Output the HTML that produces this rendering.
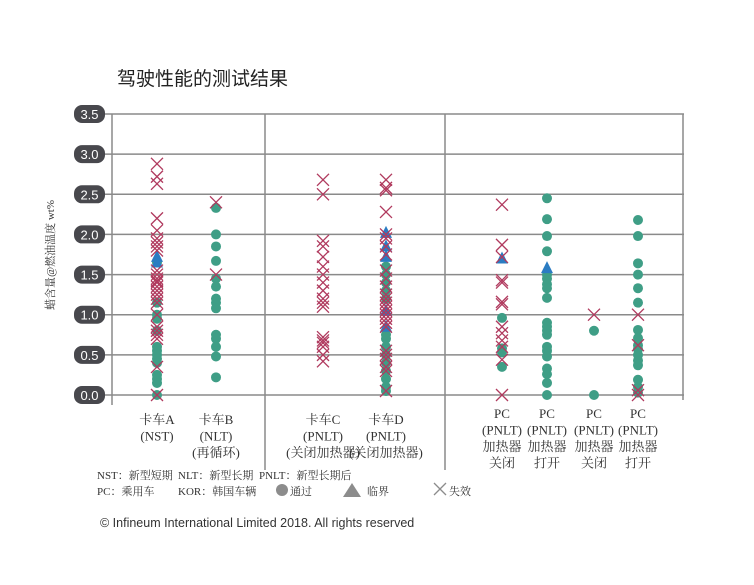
<!DOCTYPE html>
<html><head><meta charset="utf-8">
<style>
html,body{margin:0;padding:0;background:#fff;}
svg{display:block;}
text{font-family:"Liberation Serif","Noto Serif CJK SC",serif;}
</style></head>
<body>
<svg id="chart" width="754" height="585" viewBox="0 0 754 585" xmlns="http://www.w3.org/2000/svg">
<text x="117" y="85" font-size="19" fill="#222" style="font-family:'Liberation Sans','Noto Sans CJK SC',sans-serif">驾驶性能的测试结果</text>
<g id="grid"></g>
<g id="marks"></g>
<g id="yticks"></g>
<text transform="translate(54,255) rotate(-90)" text-anchor="middle" font-size="11" fill="#333">蜡含量@燃油温度 wt%</text>
<g id="xlabels"></g>
<g font-size="11" fill="#333">
<text x="97" y="479">NST：新型短期</text>
<text x="178" y="479">NLT：新型长期</text>
<text x="259" y="479">PNLT：新型长期后</text>
<text x="97" y="495">PC：乘用车</text>
<text x="178" y="495">KOR：韩国车辆</text>
<circle cx="282" cy="490" r="6" fill="#8c8c8c"/>
<text x="290" y="495">通过</text>
<polygon points="343,497 361,497 352,483" fill="#8c8c8c"/>
<text x="367" y="495">临界</text>
<path d="M434,483 L446,495 M446,483 L434,495" stroke="#8c8c8c" stroke-width="1.3"/>
<text x="449" y="495">失效</text>
</g>
<text x="100" y="527" font-size="12.5" fill="#333" style="font-family:'Liberation Sans',sans-serif">© Infineum International Limited 2018. All rights reserved</text>
</svg>
<script>
const categories=["卡车A","卡车B","卡车C","卡车D","PC1","PC2","PC3","PC4"];
const yTicks=[0,0.5,1.0,1.5,2.0,2.5,3.0,3.5];
const failVals=[
[2.88,2.72,2.63,2.2,2.05,1.95,1.9,1.85,1.8,1.55,1.5,1.45,1.42,1.4,1.35,1.3,1.25,1.2,1.15,1.0,0.85,0.8,0.75,0.7,0.35,0.0],
[2.4,1.5],
[2.68,2.5,1.92,1.85,1.72,1.6,1.5,1.4,1.3,1.2,1.15,1.1,0.72,0.68,0.65,0.6,0.5,0.42],
[2.68,2.58,2.55,2.28,2.0,1.95,1.85,1.75,1.55,1.45,1.35,1.25,1.2,1.15,1.1,1.05,1.0,0.95,0.9,0.85,0.55,0.5,0.45,0.35,0.3,0.05],
[2.37,1.87,1.72,1.43,1.4,1.16,1.13,0.85,0.77,0.68,0.6,0.44,0.0],
[],
[1.0],
[1.0,0.62,0.06,0.0]];
const passVals=[
[1.65,1.15,1.0,0.95,0.8,0.6,0.55,0.5,0.45,0.4,0.25,0.2,0.15,0.0],
[2.33,2.0,1.85,1.67,1.45,1.35,1.2,1.15,1.08,0.75,0.7,0.6,0.48,0.22],
[],
[1.6,1.5,1.4,1.3,1.2,0.75,0.7,0.6,0.5,0.4,0.3,0.2,0.1,0.05],
[0.96,0.58,0.53,0.35],
[2.45,2.19,1.98,1.79,1.5,1.45,1.38,1.33,1.21,0.9,0.85,0.8,0.75,0.6,0.55,0.48,0.33,0.26,0.15,0.0],
[0.8,0.0],
[2.18,1.98,1.64,1.5,1.33,1.15,0.81,0.71,0.62,0.57,0.5,0.43,0.37,0.19,0.1,0.03]];
const borderVals=[
[1.72,1.65],[],[],[2.02,1.85,1.72,1.05,0.85],[1.7],[1.58],[],[]];
const catLabels=[
["卡车A","(NST)"],["卡车B","(NLT)","(再循环)"],["卡车C","(PNLT)","(关闭加热器)"],["卡车D","(PNLT)","(关闭加热器)"],
["PC","(PNLT)","加热器","关闭"],["PC","(PNLT)","加热器","打开"],["PC","(PNLT)","加热器","关闭"],["PC","(PNLT)","加热器","打开"]];

const NS="http://www.w3.org/2000/svg";
const colX=[157,216,323,386,502,547,594,638];
function xPos(i){return colX[i];}
function yPos(v){return 395-(v/3.5)*281;}
function mk(tag,attrs,parent){const e=document.createElementNS(NS,tag);for(const k in attrs)e.setAttribute(k,attrs[k]);parent.appendChild(e);return e;}
const grid=document.getElementById('grid'),marks=document.getElementById('marks'),yt=document.getElementById('yticks'),xl=document.getElementById('xlabels');
yTicks.forEach(t=>{
  const y=yPos(t);
  const l=mk('line',{x1:104,x2:684,y1:y,y2:y,stroke:'#8a8a8a','stroke-width':1.5},grid);
  
  
  const r=mk('rect',{x:74,y:y-9,width:31,height:18,rx:8,fill:'#48484d'},yt);
  
  
  const tx=mk('text',{x:89.5,y:y+5,'text-anchor':'middle','font-size':13,fill:'#fff',style:"font-family:'Liberation Sans',sans-serif"},yt);
  tx.textContent=t.toFixed(1);
  
  
});
[[112,114,405],[265,114,470],[445,114,470],[683,114,400]].forEach(a=>{
  const l=mk('line',{x1:a[0],x2:a[0],y1:a[1],y2:a[2],stroke:'#8a8a8a','stroke-width':1.5},grid);
  
  
});
categories.forEach((c,i)=>{
  const x=xPos(i);
  passVals[i].forEach(v=>{
    const e=mk('circle',{cx:x,cy:yPos(v),r:5,fill:'#3f9e86'},marks);
    
    
  });
  borderVals[i].forEach(v=>{
    const y=yPos(v);
    const e=mk('polygon',{points:`${x-6},${y+5} ${x+6},${y+5} ${x},${y-7}`,fill:'#2b7cc2'},marks);
    
    
  });
  failVals[i].forEach(v=>{
    const y=yPos(v);
    const e=mk('path',{d:`M${x-6},${y-6} L${x+6},${y+6} M${x+6},${y-6} L${x-6},${y+6}`,stroke:'#b03a5e','stroke-width':1.3,fill:'none'},marks);
    
    
  });
  const g=mk('g',{},xl);
  
  
  const y0=i<4?424:418;
  catLabels[i].forEach((s,j)=>{
    const t=mk('text',{x:x,y:y0+j*16.5,'text-anchor':'middle','font-size':13,fill:'#333'},g);
    t.textContent=s;
  });
});
</script>
</body></html>
